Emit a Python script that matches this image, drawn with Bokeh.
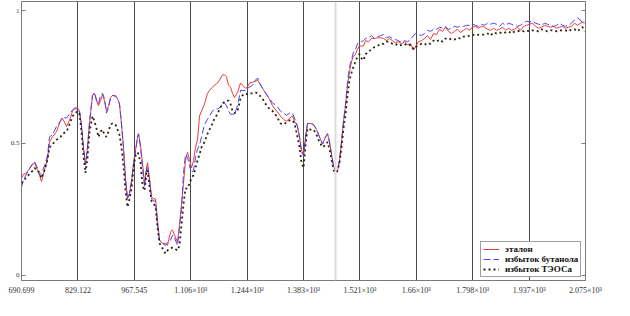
from bokeh.plotting import figure
from bokeh.models import Range1d, FixedTicker, LinearAxis, Span, Legend, LegendItem, Grid
from bokeh.embed import file_html
from bokeh.resources import INLINE

# wavenumber grid (cm^-1)
wn = [690.7, 695.6, 700.5, 707.9, 717.7, 722.6, 730.0, 734.9, 739.8, 747.2,
      754.5, 759.4, 766.8, 776.6, 786.4, 791.3, 801.2, 808.5, 815.9, 820.8,
      828.1, 833.1, 838.0, 842.9, 847.8, 852.7, 857.6, 865.0, 869.9, 874.8,
      879.7, 884.6, 889.5, 894.4, 899.3, 904.2, 909.1, 914.0, 921.4, 926.3,
      931.2, 936.1, 941.0, 946.0, 950.9, 955.8, 960.7, 965.6, 970.5, 975.4,
      977.9, 982.8, 987.7, 992.6, 997.5, 1000.0, 1004.9, 1009.8, 1014.7, 1019.6,
      1024.5, 1029.4, 1036.8, 1044.1, 1049.0, 1056.4, 1061.3, 1066.2, 1073.6, 1078.5,
      1083.4, 1088.3, 1093.2, 1098.1, 1103.0, 1107.9, 1112.9, 1117.8, 1122.7, 1127.6,
      1132.5, 1139.9, 1147.2, 1152.1, 1159.5, 1164.4, 1171.8, 1176.7, 1184.0, 1188.9,
      1193.9, 1198.8, 1203.7, 1208.6, 1213.5, 1220.9, 1228.2, 1233.1, 1240.5, 1245.4,
      1250.3, 1257.7, 1265.0, 1270.0, 1274.9, 1282.2, 1289.6, 1297.0, 1306.8, 1316.6,
      1326.4, 1333.8, 1341.2, 1348.5, 1355.9, 1360.8, 1368.1, 1373.0, 1378.0, 1382.9,
      1387.8, 1392.7, 1400.1, 1407.4, 1414.8, 1422.1, 1429.5, 1436.9, 1441.8, 1446.7,
      1451.6, 1456.5, 1461.4, 1466.3, 1471.2, 1476.1, 1481.0, 1486.0, 1490.9, 1495.8,
      1500.7, 1505.6, 1510.5, 1515.4, 1520.3, 1525.2, 1530.1, 1535.0, 1542.4, 1549.7,
      1557.1, 1564.5, 1571.8, 1579.2, 1586.5, 1593.9, 1601.3, 1608.6, 1616.0, 1623.4,
      1630.7, 1638.1, 1645.5, 1652.8, 1657.7, 1665.1, 1672.5, 1679.8, 1687.2, 1694.5,
      1701.9, 1709.3, 1716.6, 1724.0, 1731.4, 1738.7, 1746.1, 1753.5, 1760.8, 1768.2,
      1775.5, 1782.9, 1790.3, 1797.6, 1805.0, 1812.4, 1819.7, 1827.1, 1834.5, 1841.8,
      1849.2, 1856.5, 1863.9, 1871.3, 1878.6, 1886.0, 1893.4, 1900.7, 1908.1, 1915.5,
      1922.8, 1930.2, 1937.5, 1944.9, 1952.3, 1959.6, 1967.0, 1974.4, 1981.7, 1989.1,
      1996.5, 2003.8, 2011.2, 2018.6, 2025.9, 2033.3, 2040.6, 2048.0, 2055.4, 2062.7,
      2067.6, 2072.6]

etalon = [0.367, 0.383, 0.383, 0.398, 0.418, 0.426, 0.398, 0.379, 0.355, 0.398,
          0.438, 0.504, 0.523, 0.543, 0.586, 0.594, 0.563, 0.586, 0.621, 0.633,
          0.633, 0.621, 0.563, 0.477, 0.418, 0.484, 0.574, 0.680, 0.688, 0.660,
          0.641, 0.660, 0.684, 0.660, 0.621, 0.641, 0.672, 0.680, 0.680, 0.668,
          0.648, 0.574, 0.484, 0.367, 0.289, 0.309, 0.355, 0.426, 0.473, 0.523,
          0.535, 0.492, 0.426, 0.348, 0.406, 0.426, 0.367, 0.297, 0.289, 0.289,
          0.211, 0.133, 0.121, 0.121, 0.113, 0.164, 0.172, 0.152, 0.125, 0.191,
          0.270, 0.348, 0.434, 0.465, 0.438, 0.406, 0.434, 0.484, 0.512, 0.602,
          0.621, 0.648, 0.688, 0.699, 0.711, 0.719, 0.727, 0.738, 0.758, 0.758,
          0.750, 0.719, 0.711, 0.688, 0.672, 0.691, 0.727, 0.719, 0.707, 0.711,
          0.727, 0.730, 0.734, 0.738, 0.727, 0.707, 0.688, 0.672, 0.641, 0.621,
          0.602, 0.590, 0.582, 0.594, 0.602, 0.582, 0.563, 0.523, 0.473, 0.453,
          0.523, 0.574, 0.574, 0.570, 0.551, 0.523, 0.496, 0.523, 0.535, 0.504,
          0.457, 0.414, 0.391, 0.395, 0.434, 0.504, 0.582, 0.641, 0.719, 0.770,
          0.809, 0.828, 0.836, 0.855, 0.867, 0.867, 0.867, 0.887, 0.883, 0.895,
          0.895, 0.898, 0.898, 0.895, 0.887, 0.895, 0.887, 0.879, 0.883, 0.875,
          0.883, 0.871, 0.875, 0.852, 0.863, 0.883, 0.887, 0.895, 0.906, 0.891,
          0.914, 0.910, 0.930, 0.922, 0.938, 0.922, 0.914, 0.922, 0.930, 0.918,
          0.926, 0.934, 0.926, 0.938, 0.941, 0.934, 0.941, 0.938, 0.930, 0.926,
          0.934, 0.926, 0.930, 0.938, 0.926, 0.934, 0.926, 0.930, 0.938, 0.926,
          0.941, 0.945, 0.949, 0.953, 0.941, 0.934, 0.938, 0.945, 0.941, 0.938,
          0.941, 0.934, 0.938, 0.941, 0.934, 0.938, 0.941, 0.953, 0.945, 0.953,
          0.957, 0.953]

butanol = [0.332, 0.367, 0.375, 0.398, 0.422, 0.430, 0.406, 0.379, 0.387, 0.414,
           0.453, 0.523, 0.531, 0.563, 0.582, 0.598, 0.594, 0.609, 0.625, 0.629,
           0.629, 0.617, 0.570, 0.484, 0.418, 0.484, 0.582, 0.680, 0.691, 0.664,
           0.648, 0.680, 0.688, 0.668, 0.613, 0.633, 0.668, 0.680, 0.676, 0.668,
           0.648, 0.570, 0.484, 0.359, 0.289, 0.309, 0.355, 0.414, 0.465, 0.523,
           0.535, 0.484, 0.406, 0.336, 0.398, 0.414, 0.359, 0.289, 0.281, 0.281,
           0.191, 0.133, 0.121, 0.113, 0.125, 0.133, 0.152, 0.141, 0.113, 0.180,
           0.250, 0.387, 0.457, 0.445, 0.414, 0.387, 0.398, 0.445, 0.477, 0.492,
           0.523, 0.570, 0.590, 0.602, 0.621, 0.629, 0.629, 0.633, 0.648, 0.652,
           0.641, 0.621, 0.609, 0.609, 0.609, 0.641, 0.699, 0.699, 0.699, 0.707,
           0.711, 0.719, 0.738, 0.746, 0.727, 0.707, 0.691, 0.672, 0.652, 0.641,
           0.621, 0.613, 0.605, 0.613, 0.613, 0.594, 0.563, 0.523, 0.465, 0.453,
           0.523, 0.574, 0.574, 0.570, 0.551, 0.523, 0.496, 0.523, 0.535, 0.504,
           0.457, 0.414, 0.391, 0.395, 0.434, 0.504, 0.582, 0.648, 0.730, 0.789,
           0.816, 0.844, 0.855, 0.875, 0.883, 0.883, 0.887, 0.895, 0.898, 0.906,
           0.895, 0.902, 0.906, 0.910, 0.898, 0.902, 0.895, 0.891, 0.887, 0.879,
           0.887, 0.883, 0.891, 0.906, 0.914, 0.910, 0.906, 0.914, 0.926, 0.922,
           0.930, 0.930, 0.938, 0.934, 0.941, 0.930, 0.934, 0.941, 0.938, 0.941,
           0.941, 0.945, 0.945, 0.949, 0.945, 0.941, 0.949, 0.945, 0.953, 0.949,
           0.953, 0.949, 0.941, 0.953, 0.945, 0.953, 0.949, 0.945, 0.941, 0.945,
           0.953, 0.961, 0.957, 0.961, 0.953, 0.949, 0.945, 0.953, 0.949, 0.945,
           0.941, 0.945, 0.953, 0.945, 0.941, 0.945, 0.953, 0.965, 0.973, 0.965,
           0.953, 0.961]

teos = [0.348, 0.355, 0.367, 0.379, 0.395, 0.406, 0.398, 0.387, 0.367, 0.398,
        0.438, 0.484, 0.496, 0.512, 0.523, 0.535, 0.543, 0.570, 0.602, 0.609,
        0.621, 0.609, 0.543, 0.453, 0.387, 0.445, 0.543, 0.602, 0.582, 0.555,
        0.523, 0.543, 0.551, 0.531, 0.523, 0.543, 0.570, 0.574, 0.570, 0.551,
        0.531, 0.484, 0.414, 0.320, 0.258, 0.289, 0.328, 0.406, 0.453, 0.465,
        0.457, 0.426, 0.340, 0.320, 0.387, 0.398, 0.336, 0.281, 0.270, 0.262,
        0.180, 0.121, 0.102, 0.082, 0.094, 0.102, 0.105, 0.102, 0.094, 0.113,
        0.191, 0.270, 0.328, 0.328, 0.348, 0.367, 0.379, 0.406, 0.434, 0.457,
        0.484, 0.504, 0.535, 0.551, 0.574, 0.594, 0.609, 0.629, 0.648, 0.656,
        0.660, 0.660, 0.648, 0.621, 0.613, 0.621, 0.668, 0.680, 0.688, 0.684,
        0.688, 0.688, 0.691, 0.688, 0.680, 0.668, 0.648, 0.633, 0.621, 0.602,
        0.574, 0.570, 0.578, 0.586, 0.586, 0.574, 0.523, 0.484, 0.426, 0.406,
        0.492, 0.555, 0.551, 0.551, 0.531, 0.504, 0.484, 0.492, 0.504, 0.477,
        0.438, 0.398, 0.387, 0.395, 0.426, 0.484, 0.555, 0.609, 0.680, 0.738,
        0.766, 0.789, 0.809, 0.828, 0.836, 0.820, 0.813, 0.836, 0.844, 0.855,
        0.863, 0.867, 0.875, 0.875, 0.883, 0.883, 0.875, 0.875, 0.867, 0.871,
        0.875, 0.867, 0.871, 0.855, 0.863, 0.871, 0.875, 0.871, 0.879, 0.875,
        0.887, 0.883, 0.891, 0.883, 0.895, 0.891, 0.895, 0.891, 0.898, 0.895,
        0.902, 0.902, 0.906, 0.910, 0.906, 0.910, 0.910, 0.910, 0.914, 0.906,
        0.918, 0.914, 0.918, 0.914, 0.918, 0.922, 0.914, 0.922, 0.922, 0.926,
        0.922, 0.926, 0.922, 0.926, 0.926, 0.922, 0.930, 0.926, 0.922, 0.926,
        0.926, 0.922, 0.926, 0.926, 0.926, 0.922, 0.930, 0.930, 0.922, 0.934,
        0.938, 0.922]

x_ticks = [690.699, 829.122, 967.545, 1105.968, 1244.391, 1382.814,
           1521.237, 1659.660, 1798.083, 1936.506, 2074.929]
x_tick_labels = ["690.699", "829.122", "967.545", "1.106×10³", "1.244×10³", "1.383×10³",
                 "1.521×10³", "1.66×10³", "1.798×10³", "1.937×10³", "2.075×10³"]
y_ticks = [0, 0.5, 1]
y_tick_labels = ["0", "0.5", "1"]
series_names = ["эталон", "избыток бутанола", "избыток ТЭОСа"]

p = figure(width=622, height=300, output_backend="svg", toolbar_location=None,
           x_range=Range1d(690.699, 2074.929), y_range=Range1d(-0.0195, 1.035),
           min_border_left=21, min_border_right=37, min_border_top=1, min_border_bottom=20,
           x_axis_type=None, y_axis_type=None)
p.background_fill_color = "white"
p.border_fill_color = "white"
p.outline_line_color = "#7a7a7a"
p.outline_line_width = 1

serif = "Liberation Serif"

xax = LinearAxis(ticker=FixedTicker(ticks=x_ticks),
                 major_label_overrides={t: l for t, l in zip(x_ticks, x_tick_labels)})
xax.axis_line_color = "#7a7a7a"
xax.major_tick_in = 0
xax.major_tick_out = 0
xax.minor_tick_line_color = None
xax.major_label_text_font = serif
xax.major_label_text_font_size = "8px"
xax.major_label_text_color = "#333333"
xax.major_label_standoff = 5
p.add_layout(xax, "below")

yax = LinearAxis(ticker=FixedTicker(ticks=y_ticks),
                 major_label_overrides={t: l for t, l in zip(y_ticks, y_tick_labels)})
yax.axis_line_color = "#7a7a7a"
yax.major_tick_in = 4
yax.major_tick_out = 0
yax.major_tick_line_color = "#7a7a7a"
yax.minor_tick_line_color = None
yax.major_label_text_font = serif
yax.major_label_text_font_size = "7px"
yax.major_label_text_color = "#333333"
yax.major_label_standoff = 2
p.add_layout(yax, "left")

rax = LinearAxis(ticker=FixedTicker(ticks=y_ticks))
rax.axis_line_color = "#7a7a7a"
rax.major_tick_in = 4
rax.major_tick_out = 0
rax.major_tick_line_color = "#7a7a7a"
rax.minor_tick_line_color = None
rax.major_label_text_alpha = 0
p.add_layout(rax, "right")

grid = Grid(dimension=0, ticker=FixedTicker(ticks=x_ticks),
            grid_line_color="#4a4a4a", grid_line_width=1)
p.add_layout(grid, "center")

p.add_layout(Span(location=1461.4, dimension="height", line_color="#dcdcdc", line_width=2))

r1 = p.line(wn, etalon, line_color="#f03a3a", line_width=1)
r2 = p.line(wn, butanol, line_color="#4646f0", line_width=1, line_dash="7 3")
r3 = p.line(wn, teos, line_color="#2e2410", line_width=1.8, line_dash="2 3")

legend = Legend(items=[LegendItem(label=series_names[0], renderers=[r1]),
                       LegendItem(label=series_names[1], renderers=[r2]),
                       LegendItem(label=series_names[2], renderers=[r3])],
                location=(459, 3))
legend.label_text_font = serif
legend.label_text_font_size = "9px"
legend.label_text_font_style = "bold"
legend.label_text_color = "#111111"
legend.label_height = 8
legend.glyph_height = 8
legend.glyph_width = 16
legend.label_standoff = 6
legend.spacing = 0
legend.padding = 2
legend.margin = 0
legend.border_line_color = "#404040"
legend.border_line_width = 1
legend.background_fill_color = "white"
legend.background_fill_alpha = 1
p.add_layout(legend, "center")

open("out.html", "w").write(file_html(p, INLINE))
